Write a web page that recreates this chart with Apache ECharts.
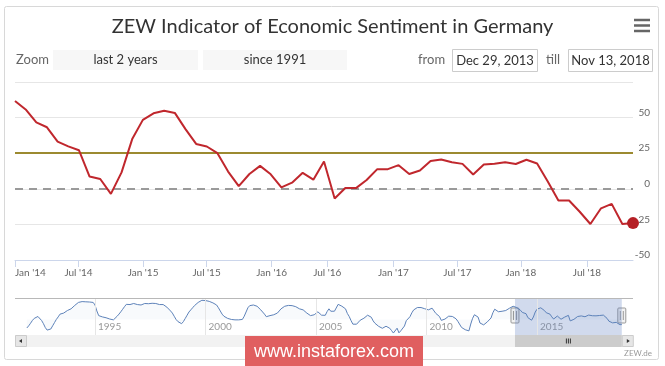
<!DOCTYPE html>
<html><head><meta charset="utf-8">
<script src="https://cdn.jsdelivr.net/npm/echarts@6/dist/echarts.min.js"></script>
<style>html,body{margin:0;padding:0;background:#fff}#c{width:665px;height:366px}</style>
</head><body><div id="c"></div>
<script>
// ---------- data ----------
const chartTitle = 'ZEW Indicator of Economic Sentiment in Germany';
const months = [
 '2014-01','2014-02','2014-03','2014-04','2014-05','2014-06','2014-07','2014-08','2014-09','2014-10','2014-11','2014-12',
 '2015-01','2015-02','2015-03','2015-04','2015-05','2015-06','2015-07','2015-08','2015-09','2015-10','2015-11','2015-12',
 '2016-01','2016-02','2016-03','2016-04','2016-05','2016-06','2016-07','2016-08','2016-09','2016-10','2016-11','2016-12',
 '2017-01','2017-02','2017-03','2017-04','2017-05','2017-06','2017-07','2017-08','2017-09','2017-10','2017-11','2017-12',
 '2018-01','2018-02','2018-03','2018-04','2018-05','2018-06','2018-07','2018-08','2018-09','2018-10','2018-11'];
const sentiment = [
 61.7,55.7,46.6,43.2,33.1,29.8,27.1,8.6,6.9,-3.6,11.5,34.9,
 48.4,53.0,54.8,53.3,41.9,31.5,29.7,25.0,12.1,1.9,10.4,16.1,
 10.2,1.0,4.3,11.2,6.4,19.2,-6.8,0.5,0.5,6.2,13.8,13.8,
 16.6,10.4,12.8,19.5,20.6,18.6,17.5,10.0,17.0,17.6,18.7,17.4,
 20.4,17.8,5.1,-8.2,-8.2,-16.1,-24.7,-13.7,-10.6,-24.7,-24.1];
const xTickLabels = ["Jan '14","Jul '14","Jan '15","Jul '15","Jan '16","Jul '16","Jan '17","Jul '17","Jan '18","Jul '18"];
// positions of those ticks on the (ordinal) release axis, in release-index units
const xTickPositions = [0, 5.96, 12.02, 17.98, 24.09, 29.31, 35.51, 41.52, 47.48, 53.68];
const yMin = -50, yMax = 75, yStep = 25;
const longTermAverage = 25;
const zeroLevel = 0;
const rangeFrom = 'Dec 29, 2013';
const rangeTill = 'Nov 13, 2018';
const zoomButtons = ['last 2 years', 'since 1991'];
// navigator: full history, monthly from Dec 1991
const navStartYear = 1991, navStartMonth = 12;
const navHistory = [
 -40,
 -30,-18,-5,5,12,14,8,-5,-20,-38,-50,-54,
 -45,-30,-15,0,12,25,32,30,36,42,47,50,
 58,66,74,80,85,84,82,83,81,82,80,80,
 68,40,18,15,12,10,8,5,2,-1,-2,5,
 15,25,36,48,60,71,72,70,72,75,73,70,
 72,68,70,75,78,74,72,76,80,75,72,70,
 72,70,65,58,50,40,30,15,0,-10,-18,-20,
 -10,5,20,35,45,55,65,72,80,88,90,90,
 89,88,85,82,78,75,68,55,40,25,15,8,
 5,2,0,-1,-2,-1,-2,-5,0,15,35,55,
 65,71,68,66,62,66,45,35,25,13,15,18,
 20,22,23,30,40,50,58,62,64,66,66,65,
 64,60,55,50,47,45,40,30,25,18,20,22,
 24,35.9,31.1,20.1,13.9,19.5,37.0,50.0,38.6,39.3,38.7,36.7,
 71.0,69.8,62.4,62.7,50.0,28.2,14.1,-5.6,-22.2,-27.4,-22.4,-19.0,
 -3.6,2.9,5.8,15.1,20.0,20.3,10.4,-6.9,-18.1,-18.1,-32.5,-37.2,
 -41.6,-39.5,-32.0,-40.7,-41.4,-52.4,-63.9,-55.5,-41.1,-63.0,-53.5,-45.2,
 -31.0,-5.8,-3.5,13.0,31.1,44.8,39.5,56.1,57.7,56.0,51.1,50.4,
 47.2,45.1,44.5,53.0,45.8,28.7,21.2,14.0,-4.3,-7.2,1.8,4.3,
 15.4,15.7,14.1,7.6,3.1,-9.0,-15.1,-37.6,-43.3,-48.3,-55.2,-53.8,
 -21.6,5.4,22.3,23.4,10.8,-16.9,-19.6,-25.5,-18.2,-11.5,-15.7,6.9,
 31.5,48.2,48.5,36.3,36.4,38.5,36.3,42.0,49.6,52.8,54.6,62.0];
const navYearLabels = [1995, 2000, 2005, 2010, 2015];
const navAxisMin = 1991.38, navAxisMax = 2019.34;

// ---------- build ----------
const navValues = navHistory.concat(sentiment);
const navData = navValues.map((v, i) => [navStartYear + (navStartMonth - 1 + i) / 12, v]);
const mainData = sentiment.map((v, i) => [i, v]);
const selFrom = navData[navHistory.length][0];
const selTo = navData[navData.length - 1][0];

const chart = echarts.init(document.getElementById('c'), null, {renderer: 'canvas'});
const FONT = 'Lato';

chart.setOption({
  animation: false,
  backgroundColor: '#fff',
  title: {
    text: chartTitle, left: 'center', top: 12,
    textStyle: {fontFamily: FONT, fontSize: 20, fontWeight: 'normal', color: '#333'}
  },
  grid: [
    {left: 15, right: 32, top: 82, bottom: 106},
    {left: 15, right: 32, top: 299, height: 36}
  ],
  xAxis: [
    {
      type: 'value', gridIndex: 0, min: 0, max: sentiment.length - 1,
      axisLine: {onZero: false, lineStyle: {color: '#ccd6eb'}},
      axisTick: {show: true, length: 7, lineStyle: {color: '#ccd6eb'}, customValues: xTickPositions},
      axisLabel: {
        customValues: xTickPositions, margin: 8, color: '#666', fontFamily: FONT, fontSize: 10,
        alignMinLabel: 'left',
        formatter: v => { const k = xTickPositions.indexOf(v); return k >= 0 ? xTickLabels[k] : ''; }
      },
      splitLine: {show: false}
    },
    {
      type: 'value', gridIndex: 1, min: navAxisMin, max: navAxisMax,
      axisLine: {show: false, onZero: false}, axisTick: {show: false},
      axisLabel: {
        inside: true, customValues: navYearLabels, margin: 3, color: '#999', fontFamily: FONT, fontSize: 10,
        align: 'left', padding: [0, 0, 0, 3], formatter: v => String(v)
      },
      splitLine: {show: false}
    }
  ],
  yAxis: [
    {
      type: 'value', gridIndex: 0, position: 'right', min: yMin, max: yMax, interval: yStep,
      axisLine: {show: false}, axisTick: {show: false},
      axisLabel: {align: 'right', margin: 17, verticalAlign: 'bottom', color: '#666', fontFamily: FONT, fontSize: 10, showMaxLabel: false},
      splitLine: {lineStyle: {color: '#e6e6e6'}}
    },
    {
      type: 'value', gridIndex: 1, show: false,
      min: e => e.min - (e.max - e.min) * 0.06,
      max: e => e.max + (e.max - e.min) * 0.04
    }
  ],
  series: [
    {
      type: 'line', xAxisIndex: 0, yAxisIndex: 0, data: mainData,
      lineStyle: {color: '#c0272d', width: 2}, itemStyle: {color: '#b51f25'},
      symbol: 'circle', symbolSize: (v, p) => p.dataIndex === mainData.length - 1 ? 12 : 0,
      showSymbol: true, showAllSymbol: true,
      z: 5,
      markLine: {
        silent: true, symbol: 'none', label: {show: false},
        data: [
          {yAxis: longTermAverage, lineStyle: {color: '#9c8a30', width: 2, type: 'solid'}},
          {yAxis: zeroLevel, lineStyle: {color: '#9a9a9a', width: 2, type: [8, 6]}}
        ]
      }
    },
    {
      type: 'line', xAxisIndex: 1, yAxisIndex: 1, data: navData, symbol: 'none',
      lineStyle: {color: '#5d82b9', width: 1},
      areaStyle: {color: 'rgba(69,114,167,0.05)'},
      markLine: {
        silent: true, symbol: 'none', label: {show: false},
        lineStyle: {color: '#e6e6e6', width: 1, type: 'solid'},
        data: navYearLabels.map(y => ({xAxis: y}))
      },
      markArea: {
        silent: true,
        itemStyle: {color: 'rgba(102,133,194,0.3)'},
        data: [[{xAxis: selFrom}, {xAxis: selTo}]]
      }
    }
  ]
});

// ---------- chrome (UI decorations) ----------
const pA = chart.convertToPixel({xAxisIndex: 1}, selFrom);
const pB = chart.convertToPixel({xAxisIndex: 1}, selTo);
const txt = (x, y, s, o) => Object.assign({type: 'text', x, y, style: Object.assign({text: s, fontFamily: FONT, fontSize: 13, fill: '#666', verticalAlign: 'middle'}, o || {})});
function handle(x) {
  return {type: 'group', children: [
    {type: 'rect', shape: {x: x - 4, y: 308, width: 8, height: 15, r: 1}, style: {fill: '#f2f2f2', stroke: '#999', lineWidth: 1}},
    {type: 'line', shape: {x1: x - 1.5, y1: 311, x2: x - 1.5, y2: 320}, style: {stroke: '#999', lineWidth: 1}},
    {type: 'line', shape: {x1: x + 1.5, y1: 311, x2: x + 1.5, y2: 320}, style: {stroke: '#999', lineWidth: 1}}
  ]};
}
const mid = (pA + pB) / 2;
chart.setOption({
  graphic: [
    {type: 'rect', shape: {x: 4.5, y: 6.5, width: 654, height: 353, r: 2}, style: {fill: 'none', stroke: '#d8d8d8', lineWidth: 1}, z: -10},
    // menu icon
    {type: 'line', shape: {x1: 634, y1: 20, x2: 650, y2: 20}, style: {stroke: '#666', lineWidth: 2.5}},
    {type: 'line', shape: {x1: 634, y1: 25.5, x2: 650, y2: 25.5}, style: {stroke: '#666', lineWidth: 2.5}},
    {type: 'line', shape: {x1: 634, y1: 31, x2: 650, y2: 31}, style: {stroke: '#666', lineWidth: 2.5}},
    // zoom buttons
    txt(16, 60, 'Zoom'),
    {type: 'rect', shape: {x: 53, y: 50, width: 145, height: 20}, style: {fill: '#f7f7f7'}},
    {type: 'rect', shape: {x: 203, y: 50, width: 144, height: 20}, style: {fill: '#f7f7f7'}},
    txt(125.5, 60, zoomButtons[0], {align: 'center', fill: '#333'}),
    txt(275, 60, zoomButtons[1], {align: 'center', fill: '#333'}),
    // range inputs
    txt(418, 60, 'from'),
    {type: 'rect', shape: {x: 452.5, y: 49.5, width: 85, height: 22}, style: {fill: '#fff', stroke: '#ccc', lineWidth: 1}},
    txt(495, 60.5, rangeFrom, {align: 'center', fill: '#333'}),
    txt(546, 60, 'till'),
    {type: 'rect', shape: {x: 568.5, y: 49.5, width: 84, height: 22}, style: {fill: '#fff', stroke: '#ccc', lineWidth: 1}},
    txt(610.5, 60.5, rangeTill, {align: 'center', fill: '#333'}),
    // navigator outline
    {type: 'line', shape: {x1: 15, y1: 298.5, x2: 633, y2: 298.5}, style: {stroke: '#b8b8b8', lineWidth: 1}},
    // scrollbar
    {type: 'rect', shape: {x: 15, y: 335, width: 618, height: 12}, style: {fill: '#f2f2f2'}},
    {type: 'rect', shape: {x: 15.5, y: 335.5, width: 11, height: 11}, style: {fill: '#e6e6e6', stroke: '#ccc', lineWidth: 1}},
    {type: 'polygon', shape: {points: [[19, 341], [22, 339], [22, 343]]}, style: {fill: '#333'}},
    {type: 'rect', shape: {x: pA, y: 335, width: pB - pA, height: 12}, style: {fill: '#cccccc'}},
    {type: 'line', shape: {x1: mid - 2, y1: 338.5, x2: mid - 2, y2: 343.5}, style: {stroke: '#333', lineWidth: 1}},
    {type: 'line', shape: {x1: mid, y1: 338.5, x2: mid, y2: 343.5}, style: {stroke: '#333', lineWidth: 1}},
    {type: 'line', shape: {x1: mid + 2, y1: 338.5, x2: mid + 2, y2: 343.5}, style: {stroke: '#333', lineWidth: 1}},
    {type: 'rect', shape: {x: pB + 0.5, y: 335.5, width: 11, height: 11}, style: {fill: '#e6e6e6', stroke: '#ccc', lineWidth: 1}},
    {type: 'polygon', shape: {points: [[pB + 8, 341], [pB + 5, 339], [pB + 5, 343]]}, style: {fill: '#333'}},
    handle(pA), handle(pB),
    // credits
    txt(652, 353, 'ZEW.de', {align: 'right', fontSize: 8, fill: '#999'}),
    // watermark
    {type: 'rect', shape: {x: 245, y: 336, width: 178, height: 30}, style: {fill: '#e05f60'}, z: 50},
    {type: 'text', x: 334, y: 352, z: 51, style: {text: 'www.instaforex.com', align: 'center', verticalAlign: 'middle', fontFamily: 'Liberation Sans', fontSize: 18, fill: '#fff'}}
  ]
});
</script></body></html>
